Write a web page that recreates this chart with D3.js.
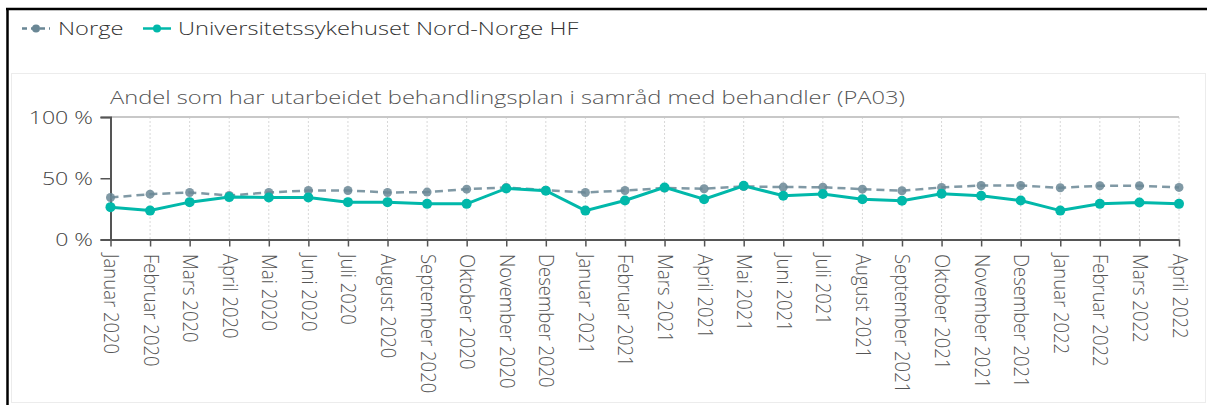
<!DOCTYPE html>
<html>
<head>
<meta charset="utf-8">
<script src="https://cdn.jsdelivr.net/npm/d3@7"></script>
<style>
  body { margin: 0; background: #fff; }
  svg { display: block; font-family: "Open Sans", "Noto Sans", sans-serif; font-weight: 350; }
</style>
</head>
<body>
<div id="chart"></div>
<script>
// data
const months = ["Januar 2020", "Februar 2020", "Mars 2020", "April 2020", "Mai 2020", "Juni 2020",
  "Juli 2020", "August 2020", "September 2020", "Oktober 2020", "November 2020", "Desember 2020",
  "Januar 2021", "Februar 2021", "Mars 2021", "April 2021", "Mai 2021", "Juni 2021",
  "Juli 2021", "August 2021", "September 2021", "Oktober 2021", "November 2021", "Desember 2021",
  "Januar 2022", "Februar 2022", "Mars 2022", "April 2022"];
const norge = [34.3, 37, 38.4, 35.9, 38.4, 40, 40, 38.4, 38.7, 41.1, 42.5, 40.3,
  38.4, 40, 42, 41.4, 43.3, 42.8, 42.7, 41.1, 39.8, 42.5, 44.1, 44.1,
  42.2, 43.9, 43.9, 42.5];
const unn = [26.4, 23.6, 30.5, 34.6, 34.3, 34.3, 30.5, 30.5, 29.1, 29.1, 41.7, 39.8,
  23.6, 31.8, 42.5, 32.9, 43.9, 35.7, 37.2, 32.9, 31.6, 37.3, 35.7, 31.8,
  23.6, 29.1, 30.2, 29.1];
const yTicks = [0, 50, 100];
const seriesNames = ["Norge", "Universitetssykehuset Nord-Norge HF"];
const chartTitle = "Andel som har utarbeidet behandlingsplan i samråd med behandler (PA03)";

const W = 1207, H = 405;
const SX = 1.28; // bildet er strukket horisontalt
const colNorge = "#6a8795", colUnn = "#01b8aa";

const svg = d3.select("#chart").append("svg").attr("width", W).attr("height", H);

// ramme
svg.append("rect").attr("x", 11.5).attr("y", 73.5).attr("width", 1194).attr("height", 329)
  .attr("fill", "none").attr("stroke", "#ececec");
svg.append("line").attr("x1", 6).attr("x2", W).attr("y1", 9).attr("y2", 9)
  .attr("stroke", "#000").attr("stroke-width", 2.5);
svg.append("line").attr("x1", 7.5).attr("x2", 7.5).attr("y1", 8).attr("y2", H)
  .attr("stroke", "#000").attr("stroke-width", 2.5);

// stretched text helper
function txt(g, x, y, s, size, color, anchor, sx, rot) {
  return g.append("text")
    .attr("transform", `translate(${x},${y}) scale(${sx},1)` + (rot ? ` rotate(${rot})` : ""))
    .attr("font-size", size).attr("fill", color)
    .attr("text-anchor", anchor || "start")
    .text(s);
}

// skalaer
const x = d3.scalePoint().domain(months).range([110.5, 1179]);
const y = d3.scaleLinear().domain([0, 100]).range([239.5, 117]);

// legende
const leg = svg.append("g");
leg.append("line").attr("x1", 22).attr("x2", 50).attr("y1", 28.5).attr("y2", 28.5)
  .attr("stroke", colNorge).attr("stroke-width", 2.5).attr("stroke-dasharray", "5,4");
leg.append("circle").attr("cx", 36).attr("cy", 28.5).attr("r", 4).attr("fill", colNorge);
txt(leg, 58, 34.5, seriesNames[0], 18.5, "#333", "start", SX);
leg.append("line").attr("x1", 143).attr("x2", 171).attr("y1", 28.5).attr("y2", 28.5)
  .attr("stroke", colUnn).attr("stroke-width", 2.5);
leg.append("circle").attr("cx", 157).attr("cy", 28.5).attr("r", 4).attr("fill", colUnn);
txt(leg, 178, 34.5, seriesNames[1], 18.5, "#333", "start", SX);

// tittel
txt(svg, 110, 104, chartTitle, 18.5, "#555", "start", SX);

// rutenett
svg.append("g").selectAll("line").data(months).join("line")
  .attr("x1", d => x(d)).attr("x2", d => x(d))
  .attr("y1", y(100)).attr("y2", y(0))
  .attr("stroke", "#d8d8d8").attr("stroke-dasharray", "2,2");
svg.append("line").attr("x1", x.range()[0]).attr("x2", x.range()[1])
  .attr("y1", y(100)).attr("y2", y(100)).attr("stroke", "#c8c8c8").attr("stroke-width", 2);

// y-akse
const yAxis = svg.append("g").attr("transform", `translate(${x.range()[0]},0)`)
  .call(d3.axisLeft(y).tickValues(yTicks).tickSize(10).tickFormat(() => ""));
yAxis.select(".domain").attr("stroke", "#555").attr("stroke-width", 2);
yAxis.selectAll(".tick line").attr("stroke", "#555").attr("stroke-width", 1.5);
yTicks.forEach(t => txt(svg, 93, y(t) + 6.5, t + " %", 18.5, "#444", "end", 1.25));

// x-akse
const xAxis = svg.append("g").attr("transform", `translate(0,${y(0)})`)
  .call(d3.axisBottom(x).tickSize(7).tickSizeOuter(0).tickFormat(() => ""));
xAxis.select(".domain").attr("stroke", "#555").attr("stroke-width", 2);
xAxis.selectAll(".tick line").attr("stroke", "#555").attr("stroke-width", 1.5);
months.forEach(m => {
  txt(svg, x(m) - 6.5, 254, m, 18.5, "#555", "start", 1.05, 90);
});

// linjer
const line = d3.line().x((d, i) => x(months[i])).y(d => y(d));
svg.append("path").datum(norge).attr("d", line).attr("fill", "none")
  .attr("stroke", colNorge).attr("stroke-width", 2.5).attr("stroke-dasharray", "8,5").attr("opacity", 0.85);
svg.append("g").selectAll("circle").data(norge).join("circle")
  .attr("cx", (d, i) => x(months[i])).attr("cy", d => y(d)).attr("r", 4.5)
  .attr("fill", colNorge).attr("opacity", 0.85);
svg.append("path").datum(unn).attr("d", line).attr("fill", "none")
  .attr("stroke", colUnn).attr("stroke-width", 3);
svg.append("g").selectAll("circle").data(unn).join("circle")
  .attr("cx", (d, i) => x(months[i])).attr("cy", d => y(d)).attr("r", 5)
  .attr("fill", colUnn);
</script>
</body>
</html>
